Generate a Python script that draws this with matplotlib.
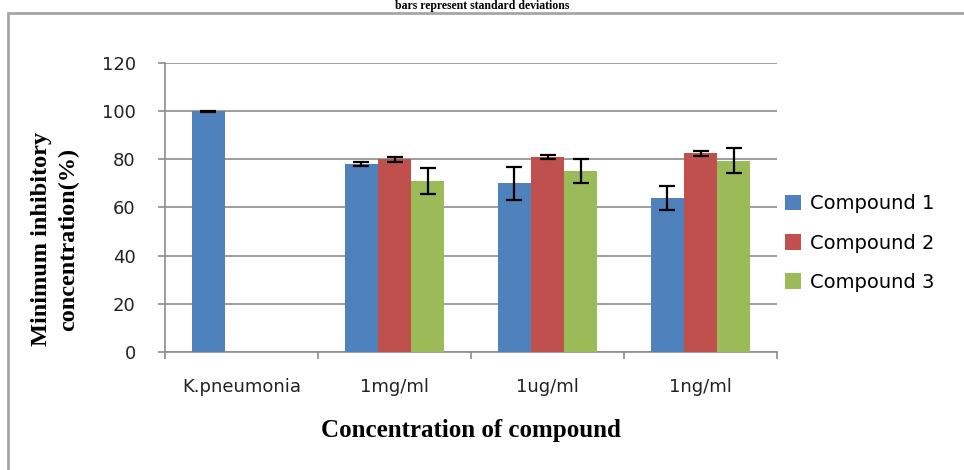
import matplotlib
matplotlib.use("Agg")
import matplotlib.pyplot as plt
import numpy as np
from matplotlib.patches import Rectangle

categories = ["K.pneumonia", "1mg/ml", "1ug/ml", "1ng/ml"]
series_names = ["Compound 1", "Compound 2", "Compound 3"]
compound1 = [100, 78, 70, 64]
compound2 = [0, 80, 81, 82.5]
compound3 = [0, 71, 75, 79.5]
err1 = [0.2, 0.7, 6.8, 5.0]
err2 = [0, 1.0, 1.0, 1.0]
err3 = [0, 5.2, 5.0, 5.0]
yticks = [0, 20, 40, 60, 80, 100, 120]

colors = ["#4F81BD", "#C0504D", "#9BBB59"]
grid_c = "#8C8C8C"

fig = plt.figure(figsize=(9.64, 4.70), dpi=100)
W, H = 964, 470
ax = fig.add_axes([165 / W, 1 - 352 / H, (777 - 165) / W, (352 - 63) / H])

x = np.arange(len(categories))
bw = 0.216
values = [compound1, compound2, compound3]
errs = [err1, err2, err3]
for i, (vals, er, c, name) in enumerate(zip(values, errs, colors, series_names)):
    xs = x + (i - 1) * bw
    mask = [v > 0 for v in vals]
    xs_m = [p for p, m in zip(xs, mask) if m]
    v_m = [v for v, m in zip(vals, mask) if m]
    e_m = [e for e, m in zip(er, mask) if m]
    ax.bar(xs_m, v_m, width=bw, color=c, label=name, zorder=3)
    ax.errorbar(xs_m, v_m, yerr=e_m, fmt="none", ecolor="black",
                elinewidth=1.6, capsize=6, capthick=1.6, zorder=4)

ax.set_xlim(-0.5, 3.5)
ax.set_ylim(0, 120)
ax.set_yticks(yticks)
ax.set_yticklabels([str(t) for t in yticks], fontsize=13, color="#222222")
ax.yaxis.grid(True, color=grid_c, linewidth=1.2, zorder=0)
ax.set_axisbelow(True)
for s in ["top", "right"]:
    ax.spines[s].set_visible(False)
ax.spines["left"].set_color(grid_c)
ax.spines["bottom"].set_color(grid_c)
ax.spines["left"].set_linewidth(1.2)
ax.spines["bottom"].set_linewidth(1.2)
ax.tick_params(axis="y", length=5, width=1.2, color=grid_c, pad=16)

ax.set_xticks(np.arange(-0.5, 4.0, 1.0))
ax.set_xticklabels([])
ax.tick_params(axis="x", which="major", length=5, width=1.2, color=grid_c)
ax.set_xticks(x, minor=True)
ax.set_xticklabels(categories, minor=True, fontsize=13, color="#222222")
ax.tick_params(axis="x", which="minor", length=0, pad=19)

ax.set_xlabel("Concentration of compound", family="Liberation Serif",
              fontweight="bold", fontsize=18, labelpad=16)
ax.set_ylabel("Minimum inhibitory\nconcentration(%)", family="Liberation Serif",
              fontweight="bold", fontsize=17.5, linespacing=1.4)
ax.yaxis.set_label_coords(-0.14, 0.39)

leg = ax.legend(loc="center left", bbox_to_anchor=(1.0, 0.377), frameon=False,
                fontsize=14, handlelength=0.85, handleheight=0.85,
                handletextpad=0.45, labelspacing=1.05, borderaxespad=0.0)

fig.text(0.5, 1.0, "bars represent standard deviations",
         family="Liberation Serif", fontweight="bold", fontsize=8.5,
         ha="center", va="top")

fig.patches.append(Rectangle((8 / W, -0.1), 1.5, 1.1 - 13 / H,
                             transform=fig.transFigure, fill=False,
                             edgecolor="#A6A6A6", linewidth=2))

fig.savefig("out.png", dpi=100)
